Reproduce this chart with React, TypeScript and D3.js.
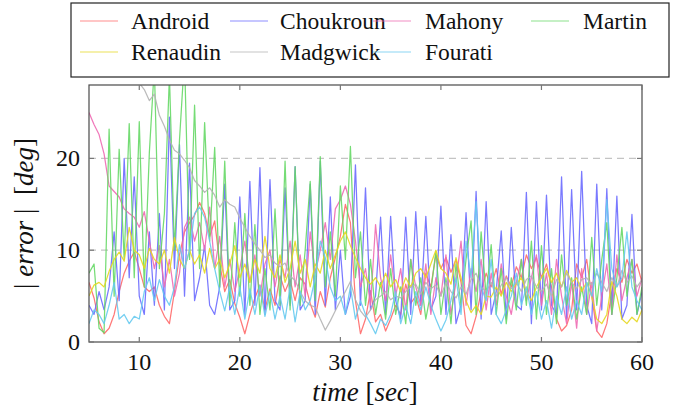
import React from "react";
import * as d3 from "d3";

// time grid: 5 s to 60 s, every 0.5 s
const timeStart = 5;
const timeStep = 0.5;

const android = [
  6.5, 4.8, 2.2, 0.9, 1.5, 3.0, 5.5, 7.5, 8.8, 9.8,
  8.0, 6.0, 5.5, 6.0, 4.0, 2.8, 2.0, 5.5, 9.5, 12.0,
  13.0, 13.8, 15.2, 14.0, 11.5, 13.2, 8.5, 5.5, 6.8, 4.2,
  2.7, 0.9, 3.0, 4.8, 6.2, 3.5, 5.8, 4.0, 7.2, 5.5,
  6.8, 4.5, 7.0, 6.3, 4.2, 2.7, 5.5, 3.8, 7.0, 9.2,
  11.5, 15.0, 13.0, 4.5, 0.9, 2.5, 5.6, 2.2, 3.0, 1.2,
  2.5, 4.0, 3.0, 6.3, 4.2, 5.0, 3.0, 7.5, 6.0, 9.5,
  8.0, 9.2, 7.6, 9.0, 6.5, 1.8, 0.9, 2.8, 5.5, 7.5,
  6.0, 8.0, 5.2, 7.2, 6.0, 8.2, 7.0, 9.5, 8.0, 9.2,
  7.0, 8.5, 6.0, 2.5, 1.2, 1.8, 3.5, 8.5, 7.0, 9.0,
  5.0, 1.2, 0.5, 2.0, 5.5, 8.0, 6.5, 9.0, 7.5, 8.5,
  6.5,
];

const choukroun = [
  4.0, 3.0, 5.5, 3.5, 6.0, 12.0, 4.5, 20.0, 7.0, 18.0,
  5.0, 3.0, 12.0, 4.0, 14.0, 3.5, 24.5, 8.0, 21.5, 5.0,
  19.5, 4.5, 7.0, 10.5, 4.0, 3.0, 6.0, 17.2, 3.5, 4.5,
  15.8, 3.0, 17.5, 4.0, 19.0, 3.0, 17.7, 4.5, 3.5, 16.8,
  4.0, 19.1, 3.5, 4.5, 17.2, 3.0, 19.7, 4.0, 15.8, 3.5,
  10.0, 3.0, 5.0, 19.3, 4.0, 16.8, 3.5, 5.0, 13.6, 3.0,
  13.7, 4.5, 2.5, 13.6, 3.0, 14.2, 4.0, 13.7, 3.5, 5.0,
  14.8, 3.0, 11.7, 2.0, 4.0, 14.1, 3.5, 16.4, 2.5, 15.3,
  3.0, 5.5, 12.1, 2.5, 12.5, 4.0, 3.5, 16.3, 2.0, 15.3,
  3.5, 16.0, 4.0, 3.0, 18.0, 2.5, 16.6, 3.5, 18.6, 4.0,
  2.0, 17.2, 3.5, 16.7, 3.0, 15.9, 2.5, 4.0, 13.9, 3.0,
  5.5,
];

const mahony = [
  25.0, 23.7, 22.6, 20.5, 17.0, 16.4, 15.8, 14.5, 14.0, 13.6,
  12.5, 14.2, 11.0, 8.0, 10.5, 6.0, 9.0, 5.0, 7.5, 12.5,
  13.6, 11.0, 13.0, 10.0, 14.7, 8.0, 11.5, 6.0, 9.0, 5.5,
  8.0, 11.0, 6.5, 9.5, 5.0, 8.5, 10.0, 6.0, 9.0, 7.0,
  11.0, 6.0, 9.5, 5.0, 12.0, 7.5, 10.0, 13.0, 9.0, 14.5,
  15.5, 17.0, 15.0, 11.0, 6.0, 8.0, 4.0, 12.8, 7.0, 4.5,
  9.5, 5.0, 8.0, 3.5, 9.0, 6.0, 4.0, 8.5, 3.0, 7.0,
  5.0, 9.5, 3.0, 6.5, 11.0, 4.0, 8.0, 5.5, 9.0, 3.5,
  7.5, 4.0, 8.5, 5.0, 3.0, 6.5, 9.0, 4.5, 7.0, 9.5,
  4.0, 7.5, 3.0, 9.0, 5.0, 2.0, 6.5, 1.5, 8.0, 3.0,
  6.5, 1.2, 5.0, 8.5, 3.0, 9.5, 4.5, 7.0, 9.0, 5.0,
  7.0,
];

const martin = [
  7.5, 8.5, 1.5, 1.0, 23.2, 5.0, 21.0, 9.0, 23.8, 7.0,
  24.0, 6.0, 20.6, 30.0, 8.0, 14.0, 29.0, 10.0, 22.0, 31.0,
  9.0, 25.8, 8.0, 23.9, 11.0, 21.2, 6.0, 19.7, 4.0, 13.0,
  5.0, 14.0, 4.0, 12.8, 3.0, 8.0, 3.5, 14.5, 4.0, 19.7,
  3.5, 19.1, 4.0, 10.0, 17.5, 4.5, 20.2, 6.0, 12.0, 5.0,
  17.0, 9.0, 21.3, 7.0, 12.0, 4.0, 9.0, 3.0, 6.5, 2.5,
  8.0, 3.0, 6.0, 2.0, 9.0, 4.0, 7.0, 2.5, 5.5, 9.9,
  3.0, 7.0, 2.0, 8.5, 4.0, 9.0, 13.2, 3.0, 12.0, 5.0,
  10.6, 3.0, 8.0, 2.0, 7.0, 3.5, 9.0, 4.0, 11.0, 2.5,
  10.5, 3.0, 8.0, 2.0, 9.5, 4.0, 7.0, 2.5, 6.0, 3.0,
  11.4, 4.0, 9.0, 13.0, 3.0, 7.0, 12.5, 5.0, 9.0, 3.0,
  6.0,
];

const renaudin = [
  5.0, 6.2, 6.5, 6.0, 7.7, 9.0, 9.8, 8.8, 12.5, 10.0,
  9.5, 8.0, 10.2, 9.0, 8.5, 10.0, 7.5, 11.4, 9.0, 8.0,
  10.0, 8.5, 9.5, 7.5, 10.2, 8.0, 9.0, 7.0, 8.5, 10.5,
  7.0, 8.5, 6.5, 9.0, 7.5, 11.5, 8.0, 7.0, 9.5, 6.5,
  8.0, 11.0, 7.5, 9.0, 6.0, 8.5, 7.5, 10.0, 8.0, 9.5,
  11.0, 12.0, 10.5, 9.2, 8.0, 7.0, 6.3, 7.0, 6.0, 7.5,
  6.0, 6.8, 5.5, 7.0, 6.0, 7.5, 8.0, 7.0, 8.5, 10.0,
  8.0, 7.5, 6.3, 9.2, 7.0, 4.5, 3.2, 4.0, 3.0, 5.0,
  4.9, 6.0, 5.0, 6.5, 5.5, 6.3, 7.0, 5.5, 4.5, 6.0,
  7.0, 8.0, 6.5, 7.5, 6.0, 7.8, 6.5, 7.0, 5.5, 6.5,
  5.0, 2.5, 2.0, 3.0, 6.6, 5.0, 2.5, 2.0, 2.7, 2.2,
  3.5,
];

const madgwick = [
  40, 40, 40, 40, 40, 40, 40, 38, 34, 30,
  28.2, 27.5, 26.3, 27.0, 24.7, 23.5, 22.0, 20.9, 20.5, 19.8,
  19.0, 17.6, 17.0, 16.3, 16.8, 16.0, 14.7, 15.5, 15.0, 14.7,
  13.5, 12.5, 11.5, 10.7, 10.0, 9.2, 9.5, 8.6, 8.2, 8.6,
  7.2, 6.7, 5.5, 4.5, 4.0, 3.8, 2.5, 1.3, 2.3, 3.4,
  4.5, 5.5, 6.6, 4.6, 3.4, 2.7, 3.5, 4.6, 5.0, 5.5,
  4.6, 5.0, 4.8, 5.5, 6.0, 6.3, 5.2, 6.5, 5.8, 6.2,
  5.0, 6.5, 5.5, 4.8, 6.0, 5.2, 6.8, 7.5, 6.0, 5.5,
  6.5, 5.0, 6.2, 7.0, 5.8, 6.5, 5.5, 6.8, 7.2, 6.0,
  5.5, 6.3, 5.0, 6.8, 6.0, 7.5, 6.5, 5.8, 6.8, 7.0,
  6.2, 7.5, 6.5, 5.5, 7.0, 6.0, 7.8, 6.5, 7.2, 6.0,
  6.8,
];

const fourati = [
  2.0, 3.5, 3.0, 2.0, 4.0, 6.5, 2.5, 3.0, 2.0, 2.8,
  2.5, 5.5, 7.0, 4.5, 6.8, 5.0, 4.0, 6.0, 10.6, 8.0,
  10.0, 14.0, 14.7, 13.6, 11.0, 8.0, 5.5, 3.4, 6.0, 3.0,
  6.0, 2.5, 5.8, 3.0, 6.2, 2.8, 5.5, 2.5, 5.0, 2.5,
  6.0, 2.2, 5.5, 3.5, 4.5, 7.0, 11.0, 9.2, 6.0, 4.5,
  5.0, 3.0, 6.0, 2.5, 4.5, 3.0, 2.0, 0.9, 2.5, 1.8,
  3.0, 5.5, 2.0, 4.0, 2.0, 5.5, 3.5, 6.0, 4.0, 2.5,
  1.2, 2.4, 4.5, 7.0, 3.0, 11.0, 7.0, 15.3, 6.0, 4.5,
  9.0, 3.0, 2.0, 3.5, 5.0, 7.5, 4.0, 6.0, 3.0, 5.5,
  2.5, 4.5, 1.5, 5.0, 3.0, 6.0, 2.5, 4.5, 3.0, 6.5,
  5.0, 8.0, 5.5, 15.5, 8.0, 6.0, 7.0, 12.0, 6.0, 4.5,
  3.5,
];

const seriesNames = ["Android", "Choukroun", "Mahony", "Martin", "Renaudin", "Madgwick", "Fourati"];
const seriesValues = [android, choukroun, mahony, martin, renaudin, madgwick, fourati];
const seriesColors = ["#ff6a6a", "#6a6aff", "#ee6ab2", "#66d866", "#e6d820", "#b4b4b4", "#66caf0"];

const xTicks = [10, 20, 30, 40, 50, 60];
const yTicks = [0, 10, 20];
const gridValues = [10, 20];

const W = 675;
const H = 408;
const plot = { left: 89, right: 642, top: 85, bottom: 342 };

export default function App() {
  const x = d3.scaleLinear().domain([5, 60]).range([plot.left, plot.right]);
  const y = d3.scaleLinear().domain([0, 28]).range([plot.bottom, plot.top]);
  const line = d3
    .line<number>()
    .x((_, i) => x(timeStart + i * timeStep))
    .y((v) => y(v));

  const serif = { fontFamily: "Liberation Serif" };

  // legend layout
  const legendLineX = [80, 230, 373, 531];
  const legendTextX = [131, 280, 425, 583];
  const legendRows = [21, 52];
  const legendLineLen = 38;

  return (
    <svg width={W} height={H} style={{ position: "absolute", left: 0, top: 0, background: "#fff" }}>
      <defs>
        <clipPath id="plotClip">
          <rect x={plot.left} y={plot.top} width={plot.right - plot.left} height={plot.bottom - plot.top} />
        </clipPath>
      </defs>
      <rect x={0} y={0} width={W} height={H} fill="#fff" />
      {/* grid */}
      {gridValues.map((g) => (
        <line
          key={"g" + g}
          x1={plot.left}
          x2={plot.right}
          y1={y(g)}
          y2={y(g)}
          stroke="#c4c4c4"
          strokeWidth={1.2}
          strokeDasharray="7,5"
        />
      ))}
      {/* series */}
      <g clipPath="url(#plotClip)">
        {seriesValues.map((vals, k) => (
          <path
            key={seriesNames[k]}
            d={line(vals) || ""}
            fill="none"
            stroke={seriesColors[k]}
            strokeOpacity={0.9}
            strokeWidth={1.25}
            strokeLinejoin="round"
          />
        ))}
      </g>
      {/* frame */}
      <rect
        x={plot.left}
        y={plot.top}
        width={plot.right - plot.left}
        height={plot.bottom - plot.top}
        fill="none"
        stroke="#4a4a4a"
        strokeWidth={1.2}
      />
      {/* x ticks */}
      {xTicks.map((t) => (
        <g key={"xt" + t}>
          <line x1={x(t)} x2={x(t)} y1={plot.bottom} y2={plot.bottom - 5} stroke="#777" strokeWidth={1.2} />
          <line x1={x(t)} x2={x(t)} y1={plot.top} y2={plot.top + 5} stroke="#777" strokeWidth={1.2} />
          <text x={x(t)} y={plot.bottom + 28} textAnchor="middle" style={serif} fontSize={24} fill="#111">
            {t}
          </text>
        </g>
      ))}
      {/* y ticks */}
      {yTicks.map((t) => (
        <g key={"yt" + t}>
          <line x1={plot.left} x2={plot.left + 5} y1={y(t)} y2={y(t)} stroke="#777" strokeWidth={1.2} />
          <line x1={plot.right} x2={plot.right - 5} y1={y(t)} y2={y(t)} stroke="#777" strokeWidth={1.2} />
          <text x={plot.left - 9} y={y(t) + 8} textAnchor="end" style={serif} fontSize={24} fill="#111">
            {t}
          </text>
        </g>
      ))}
      {/* axis labels */}
      <text x={365} y={401} textAnchor="middle" style={serif} fontSize={27} fill="#111">
        <tspan fontStyle="italic">time</tspan>
        <tspan>{"\u00a0["}</tspan>
        <tspan fontStyle="italic">sec</tspan>
        <tspan>]</tspan>
      </text>
      <text
        transform={`translate(33, ${(plot.top + plot.bottom) / 2}) rotate(-90)`}
        textAnchor="middle"
        style={serif}
        fontSize={27}
        fill="#111"
      >
        <tspan>{"|\u00a0"}</tspan>
        <tspan fontStyle="italic">error</tspan>
        <tspan>{"\u00a0|\u00a0\u00a0["}</tspan>
        <tspan fontStyle="italic">deg</tspan>
        <tspan>]</tspan>
      </text>
      {/* legend */}
      <rect x={71} y={3} width={598} height={74} fill="#fff" stroke="#222" strokeWidth={1.2} />
      {seriesNames.map((name, k) => {
        const col = k < 4 ? k : k - 4;
        const row = k < 4 ? 0 : 1;
        const ly = legendRows[row];
        return (
          <g key={"lg" + name}>
            <line
              x1={legendLineX[col]}
              x2={legendLineX[col] + legendLineLen}
              y1={ly}
              y2={ly}
              stroke={seriesColors[k]}
              strokeOpacity={0.5}
              strokeWidth={1.5}
            />
            <text x={legendTextX[col]} y={ly + 8} style={serif} fontSize={23.5} fill="#111">
              {name}
            </text>
          </g>
        );
      })}
    </svg>
  );
}
